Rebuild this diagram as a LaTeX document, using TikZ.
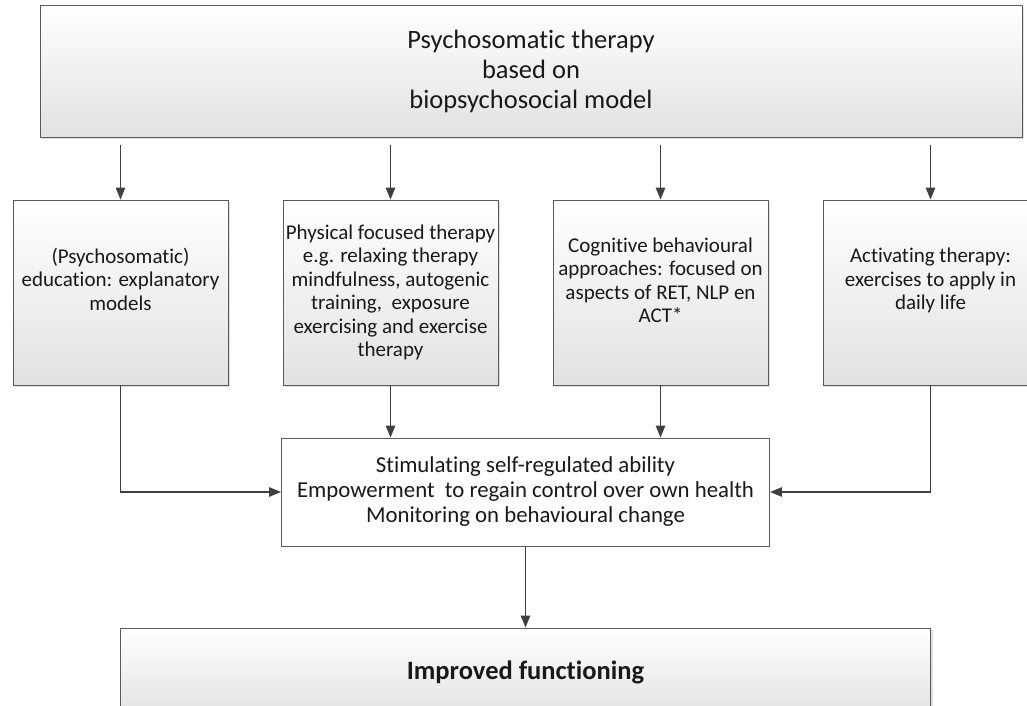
\documentclass[tikz,border=0pt]{standalone}
\usepackage{fontspec}
\setmainfont{Carlito}[Ligatures={NoCommon}]
\usetikzlibrary{shapes,arrows.meta,positioning,calc,shadows}
\definecolor{edge}{HTML}{404040}
\definecolor{frame}{HTML}{5A5A5A}
\definecolor{shade}{HTML}{E2E2E2}

\begin{document}
\begin{tikzpicture}[x=1pt, y=1pt, on grid,
    box/.style={draw=frame, line width=0.9pt, align=center, text=black!90,
      top color=white, bottom color=shade,
      drop shadow={shadow xshift=2pt, shadow yshift=-2pt, opacity=0.25}},
    headbox/.style={box, minimum width=982pt, minimum height=132pt,
      font=\fontsize{26.5}{30}\selectfont},
    stepbox/.style={box, inner xsep=2pt, minimum width=215pt, minimum height=185pt,
      font=\fontsize{21}{23.5}\selectfont},
    aimbox/.style={draw=frame, line width=0.9pt, fill=white, align=center, text=black!90,
      minimum width=488pt, minimum height=108pt, font=\fontsize{22.8}{25}\selectfont},
    flow/.style={draw=edge, line width=1.3pt, -{Triangle[length=12pt,width=9.5pt]}}]

  \useasboundingbox (0,0) rectangle (1027,-705);

  \node[headbox] (model) at (531,-71) {Psychosomatic therapy\\ based on\\ biopsychosocial model};

  \node[stepbox, text depth=27pt] (edu) at (120.5,-292.5) {(Psychosomatic)\\ education: explanatory\\ models};
  \node[stepbox, right=270pt of edu] (phys) {Physical focused therapy\\ e.g. relaxing therapy\\ mindfulness, autogenic\\ training,\ \ exposure\\ exercising and exercise\\ therapy};
  \node[stepbox, right=270pt of phys, text depth=25pt] (cogn) {Cognitive behavioural\\ approaches: focused on\\ aspects of RET, NLP en\\ ACT*};
  \node[stepbox, right=270pt of cogn, text depth=27pt] (activ) {Activating therapy:\\ exercises to apply in\\ daily life};

  \node[aimbox] (goal) at (525.5,-492) {Stimulating self-regulated ability\\ Empowerment\ \ to regain control over own health\\ Monitoring on behavioural change};
  \node[box, below=180pt of goal, minimum width=810pt, minimum height=88pt,
    font=\fontsize{26.5}{30}\selectfont\bfseries] (result) {Improved functioning};

  \foreach \n in {edu,phys,cogn,activ}
    \draw[flow, shorten <=8pt] (model.south -| \n.north) -- (\n.north);

  \draw[flow] (edu.south) |- (goal.west);
  \draw[flow] (activ.south) |- (goal.east);
  \draw[flow] (phys.south) -- (phys.south |- goal.north);
  \draw[flow] (cogn.south) -- (cogn.south |- goal.north);
  \draw[flow] (goal) -- (result);
\end{tikzpicture}
\end{document}
